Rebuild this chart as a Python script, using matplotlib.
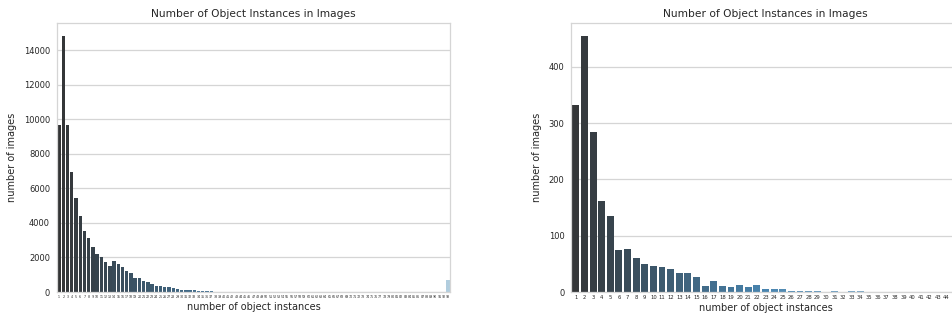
# -*- coding: utf-8 -*-
"Bar charts of how many object instances each image contains"

import colorsys
import matplotlib
matplotlib.use("Agg")
import matplotlib.pyplot as plt
from matplotlib.colors import LinearSegmentedColormap, to_rgb

# full dataset: images per instance count (1..93, last bin is the overflow)
all_counts = [9700, 14850, 9700, 6950, 5450, 4400, 3550, 3150, 2600, 2200,
              2000, 1750, 1520, 1800, 1640, 1460, 1230, 1080, 820, 800,
              640, 560, 440, 360, 350, 280, 270, 220, 190, 130,
              120, 115, 100, 70, 60, 55, 50, 25, 20, 15,
              12, 10, 9, 8, 6, 5, 5, 4, 3, 3,
              2, 2, 2, 1, 1, 1, 1, 1, 0, 0,
              0, 0, 0, 0, 0, 0, 0, 0, 0, 0,
              0, 0, 0, 0, 0, 0, 0, 0, 0, 0,
              0, 0, 0, 0, 0, 0, 0, 0, 0, 0,
              0, 0, 700]
all_labels = [str(i) for i in range(1, len(all_counts) + 1)]

# subset: images per instance count (1..45)
sub_counts = [333, 455, 285, 162, 135, 75, 77, 60, 50, 46,
              44, 40, 33, 33, 26, 10, 19, 10, 8, 12,
              8, 12, 5, 5, 5, 2, 2, 2, 2, 0,
              2, 0, 2, 2, 0, 0, 0, 0, 0, 0,
              0, 0, 0, 0, 0]
sub_labels = [str(i) for i in range(1, len(sub_counts) + 1)]

TXT = "#262626"
GRID = "#d5d5d5"


def blues_dark(n):
    "dark grey -> mid blue -> light blue, desaturated like seaborn bars"
    blues = plt.get_cmap("Blues")
    cmap = LinearSegmentedColormap.from_list(
        "bd", ["#333333", blues(2 / 3), blues(1 / 3)])
    cols = []
    for k in range(n):
        r, g, b = to_rgb(cmap((k + 1) / (n + 1)))
        h, l, s = colorsys.rgb_to_hls(r, g, b)
        cols.append(colorsys.hls_to_rgb(h, l, s * 0.75))
    return cols


def draw(ax, labels, counts, xfs):
    xs = list(range(len(counts)))
    ax.bar(xs, counts, width=0.8, color=blues_dark(len(counts)), zorder=2)
    ax.set_xlim(-0.5, len(counts) - 0.5)
    ax.set_ylim(0, max(counts) * 1.05)
    ax.set_xticks(xs)
    ax.set_xticklabels(labels, fontsize=xfs, color=TXT)
    ax.tick_params(axis="x", length=0, pad=2.5)
    ax.tick_params(axis="y", length=0, pad=5, labelsize=6, labelcolor=TXT)
    ax.yaxis.grid(True, color=GRID, linewidth=0.9, zorder=0)
    ax.xaxis.grid(False)
    ax.set_axisbelow(True)
    for sp in ax.spines.values():
        sp.set_color(GRID)
        sp.set_linewidth(0.9)
    ax.set_title("Number of Object Instances in Images", fontsize=7.7,
                 color=TXT, pad=4)
    ax.set_xlabel("number of object instances", fontsize=7, color=TXT,
                  labelpad=1.5)
    ax.set_ylabel("number of images", fontsize=7, color=TXT, labelpad=5)


fig = plt.figure(figsize=(9.53, 3.2), dpi=100)
ax1 = fig.add_axes([57 / 953, 28 / 320, 393 / 953, 269 / 320])
# right panel runs slightly past the figure edge
ax2 = fig.add_axes([571.5 / 953, 28 / 320, 388 / 953, 269 / 320])

draw(ax1, all_labels, all_counts, 2.3)
draw(ax2, sub_labels, sub_counts, 3.8)

fig.savefig("out.png", dpi=100)
